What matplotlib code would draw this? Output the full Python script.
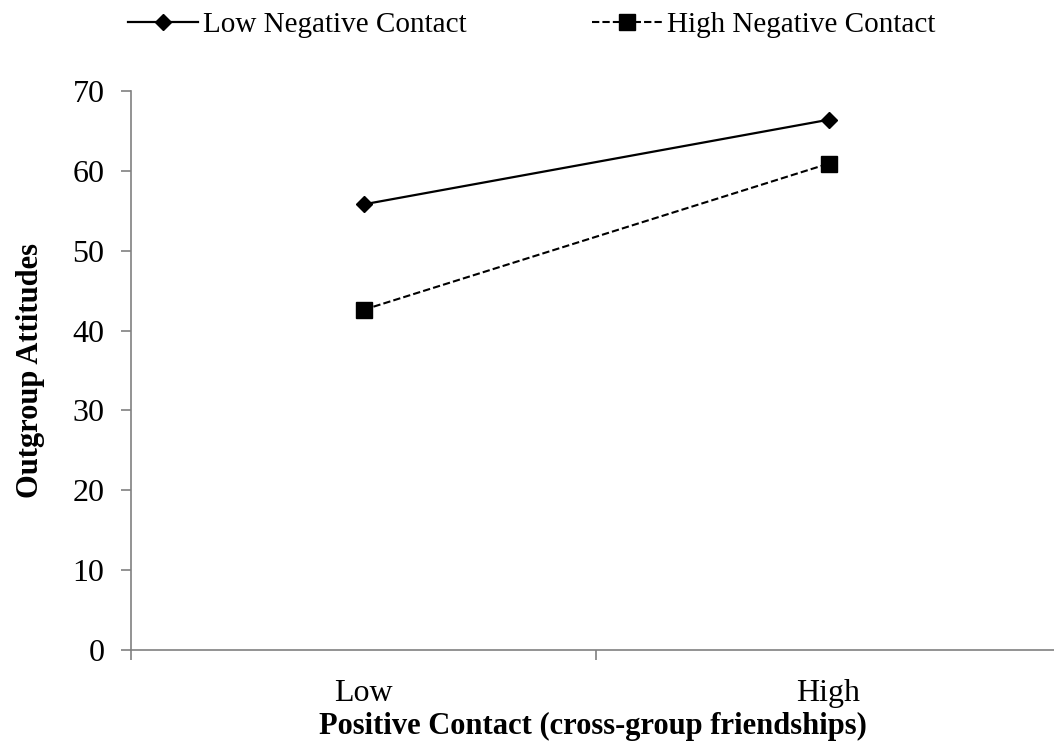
import matplotlib.pyplot as plt
from matplotlib.ticker import FixedLocator, NullFormatter

categories = ['Low', 'High']
low_neg = [55.8, 66.4]
high_neg = [42.6, 60.9]
y_ticks = [0, 10, 20, 30, 40, 50, 60, 70]

plt.rcParams['font.family'] = ['Liberation Serif', 'DejaVu Serif']

fig = plt.figure(figsize=(10.54, 7.49), dpi=100)
ax = fig.add_axes([131 / 1054, 99 / 749, 1 - 131 / 1054, (650 - 91) / 749])

x = list(range(len(categories)))
l1, = ax.plot(x, low_neg, color='black', lw=1.6, marker='D', ms=8.5,
              label='Low Negative Contact')
l2, = ax.plot(x, high_neg, color='black', lw=1.5, ls=(0, (3.5, 1.5)), marker='s', ms=11,
              label='High Negative Contact')

ax.set_ylim(0, 70)
ax.set_xlim(-0.5, -0.5 + (1054 - 131) / 465)
ax.set_yticks(y_ticks)

# category boundaries as major ticks, labels on minor ticks
ax.xaxis.set_major_locator(FixedLocator([-0.5, 0.5, 1.5]))
ax.xaxis.set_major_formatter(NullFormatter())
ax.set_xticks(x, minor=True)
ax.set_xticklabels(categories, minor=True)
ax.tick_params(axis='x', which='minor', length=0, pad=21, labelsize=23)
ax.tick_params(axis='x', which='major', length=7, width=1.2, color='#808080')
ax.tick_params(axis='y', length=7, width=1.2, color='#808080', pad=12, labelsize=23)

for s in ['top', 'right']:
    ax.spines[s].set_visible(False)
for s in ['left', 'bottom']:
    ax.spines[s].set_color('#808080')
    ax.spines[s].set_linewidth(1.2)

ax.set_xlabel('Positive Contact (cross-group friendships)', fontsize=22,
              fontweight='bold', labelpad=3)
ax.set_ylabel('Outgroup Attitudes', fontsize=22, fontweight='bold', labelpad=20)

fig.legend(handles=[l1, l2], loc='center left', bbox_to_anchor=(128 / 1054, 1 - 25 / 749),
           ncol=2, frameon=False, fontsize=21, handlelength=2.4, handletextpad=0.17,
           columnspacing=4.3, borderaxespad=0, borderpad=0)

fig.savefig('out.png', dpi=100)
